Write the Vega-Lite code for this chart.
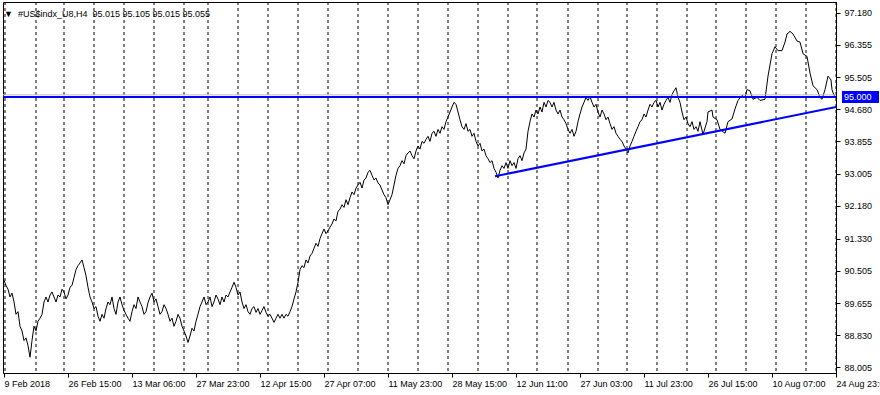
{
"$schema":"https://vega.github.io/schema/vega-lite/v6.json",
"width":833,"height":371,
"autosize":{"type":"none"},
"padding":{"left":3,"top":2,"right":44,"bottom":22},
"background":"white",
"config":{"view":{"stroke":"black","strokeWidth":1},"font":"Liberation Sans","axis":{"labelOverlap":false,"labelFlush":false,"labelBound":false}},
"datasets":{
"head":[{"label":"▼\u00a0\u00a0#US$indx_U8,H4\u00a0\u00a095.015 95.105 95.015 95.055"}],
"seps":[{"bar":2},{"bar":33},{"bar":61},{"bar":91},{"bar":121},{"bar":151},{"bar":181},{"bar":205},{"bar":235},{"bar":265},{"bar":295},{"bar":325},{"bar":355},{"bar":385},{"bar":415},{"bar":445},{"bar":475},{"bar":505},{"bar":534},{"bar":565},{"bar":595},{"bar":624},{"bar":654},{"bar":684},{"bar":713},{"bar":743},{"bar":773},{"bar":803},{"bar":833}],
"bid":[{"level":95.055}],
"level":[{"level":95.0}],
"trend":[{"bar":492,"price":92.946},{"bar":833,"price":94.74}],
"price":[
{"bar":1,"close":90.25},{"bar":3,"close":90.12},{"bar":5,"close":90.02},{"bar":7,"close":89.82},{"bar":9,"close":89.92},{"bar":11,"close":89.69},{"bar":13,"close":89.37},{"bar":15,"close":89.44},{"bar":17,"close":89.06},{"bar":19,"close":88.94},{"bar":21,"close":88.69},{"bar":23,"close":88.76},{"bar":25,"close":88.56},{"bar":27,"close":88.26},{"bar":29,"close":88.69},{"bar":31,"close":89.06},{"bar":33,"close":88.94},{"bar":35,"close":89.19},{"bar":37,"close":89.27},{"bar":39,"close":89.37},{"bar":41,"close":89.69},{"bar":43,"close":89.82},{"bar":45,"close":89.69},{"bar":47,"close":89.87},{"bar":49,"close":89.95},{"bar":51,"close":89.82},{"bar":53,"close":89.69},{"bar":55,"close":89.87},{"bar":57,"close":89.82},{"bar":59,"close":90.02},{"bar":61,"close":89.95},{"bar":63,"close":89.77},{"bar":65,"close":89.87},{"bar":67,"close":90.07},{"bar":69,"close":90.12},{"bar":71,"close":90.32},{"bar":73,"close":90.53},{"bar":75,"close":90.63},{"bar":77,"close":90.70},{"bar":79,"close":90.78},{"bar":81,"close":90.58},{"bar":83,"close":90.37},{"bar":85,"close":90.07},{"bar":87,"close":89.82},{"bar":89,"close":89.69},{"bar":91,"close":89.52},{"bar":93,"close":89.57},{"bar":95,"close":89.32},{"bar":97,"close":89.19},{"bar":99,"close":89.37},
{"bar":101,"close":89.27},{"bar":103,"close":89.52},{"bar":105,"close":89.69},{"bar":107,"close":89.62},{"bar":109,"close":89.82},{"bar":111,"close":89.52},{"bar":113,"close":89.37},{"bar":115,"close":89.69},{"bar":117,"close":89.82},{"bar":119,"close":89.62},{"bar":121,"close":89.47},{"bar":123,"close":89.37},{"bar":125,"close":89.27},{"bar":127,"close":89.19},{"bar":129,"close":89.44},{"bar":131,"close":89.62},{"bar":133,"close":89.52},{"bar":135,"close":89.82},{"bar":137,"close":89.69},{"bar":139,"close":89.57},{"bar":141,"close":89.37},{"bar":143,"close":89.44},{"bar":145,"close":89.67},{"bar":147,"close":89.82},{"bar":149,"close":89.92},{"bar":151,"close":89.69},{"bar":153,"close":89.77},{"bar":155,"close":89.57},{"bar":157,"close":89.37},{"bar":159,"close":89.44},{"bar":161,"close":89.62},{"bar":163,"close":89.52},{"bar":165,"close":89.37},{"bar":167,"close":89.19},{"bar":169,"close":89.27},{"bar":171,"close":89.06},{"bar":173,"close":89.19},{"bar":175,"close":89.37},{"bar":177,"close":89.27},{"bar":179,"close":89.06},{"bar":181,"close":88.94},{"bar":183,"close":88.81},{"bar":185,"close":88.64},{"bar":187,"close":88.81},{"bar":189,"close":89.01},{"bar":191,"close":88.94},{"bar":193,"close":89.19},{"bar":195,"close":89.37},{"bar":197,"close":89.57},{"bar":199,"close":89.69},
{"bar":201,"close":89.82},{"bar":203,"close":89.62},{"bar":205,"close":89.69},{"bar":207,"close":89.82},{"bar":209,"close":89.57},{"bar":211,"close":89.69},{"bar":213,"close":89.87},{"bar":215,"close":89.77},{"bar":217,"close":89.62},{"bar":219,"close":89.82},{"bar":221,"close":89.69},{"bar":223,"close":89.87},{"bar":225,"close":89.82},{"bar":227,"close":89.95},{"bar":229,"close":90.07},{"bar":231,"close":90.20},{"bar":233,"close":90.07},{"bar":235,"close":89.87},{"bar":237,"close":89.95},{"bar":239,"close":89.69},{"bar":241,"close":89.52},{"bar":243,"close":89.62},{"bar":245,"close":89.44},{"bar":247,"close":89.37},{"bar":249,"close":89.52},{"bar":251,"close":89.57},{"bar":253,"close":89.42},{"bar":255,"close":89.52},{"bar":257,"close":89.37},{"bar":259,"close":89.47},{"bar":261,"close":89.57},{"bar":263,"close":89.42},{"bar":265,"close":89.32},{"bar":267,"close":89.37},{"bar":269,"close":89.27},{"bar":271,"close":89.16},{"bar":273,"close":89.27},{"bar":275,"close":89.37},{"bar":277,"close":89.27},{"bar":279,"close":89.37},{"bar":281,"close":89.27},{"bar":283,"close":89.37},{"bar":285,"close":89.32},{"bar":287,"close":89.44},{"bar":289,"close":89.57},{"bar":291,"close":89.77},{"bar":293,"close":89.95},{"bar":295,"close":90.20},{"bar":297,"close":90.53},{"bar":299,"close":90.63},
{"bar":301,"close":90.58},{"bar":303,"close":90.78},{"bar":305,"close":90.70},{"bar":307,"close":90.88},{"bar":309,"close":90.95},{"bar":311,"close":91.08},{"bar":313,"close":91.21},{"bar":315,"close":91.13},{"bar":317,"close":91.33},{"bar":319,"close":91.46},{"bar":321,"close":91.58},{"bar":323,"close":91.46},{"bar":325,"close":91.53},{"bar":327,"close":91.63},{"bar":329,"close":91.71},{"bar":331,"close":91.84},{"bar":333,"close":91.79},{"bar":335,"close":92.04},{"bar":337,"close":92.09},{"bar":339,"close":92.21},{"bar":341,"close":92.14},{"bar":343,"close":92.34},{"bar":345,"close":92.21},{"bar":347,"close":92.39},{"bar":349,"close":92.54},{"bar":351,"close":92.47},{"bar":353,"close":92.64},{"bar":355,"close":92.72},{"bar":357,"close":92.79},{"bar":359,"close":92.64},{"bar":361,"close":92.85},{"bar":363,"close":92.90},{"bar":365,"close":93.05},{"bar":367,"close":93.10},{"bar":369,"close":92.97},{"bar":371,"close":92.85},{"bar":373,"close":92.90},{"bar":375,"close":92.77},{"bar":377,"close":92.72},{"bar":379,"close":92.59},{"bar":381,"close":92.47},{"bar":383,"close":92.39},{"bar":385,"close":92.21},{"bar":387,"close":92.34},{"bar":389,"close":92.47},{"bar":391,"close":92.72},{"bar":393,"close":92.97},{"bar":395,"close":93.15},{"bar":397,"close":93.22},{"bar":399,"close":93.35},
{"bar":401,"close":93.27},{"bar":403,"close":93.48},{"bar":405,"close":93.55},{"bar":407,"close":93.60},{"bar":409,"close":93.48},{"bar":411,"close":93.40},{"bar":413,"close":93.60},{"bar":415,"close":93.73},{"bar":417,"close":93.65},{"bar":419,"close":93.85},{"bar":421,"close":93.80},{"bar":423,"close":93.90},{"bar":425,"close":93.98},{"bar":427,"close":93.85},{"bar":429,"close":94.06},{"bar":431,"close":94.11},{"bar":433,"close":93.98},{"bar":435,"close":94.16},{"bar":437,"close":94.06},{"bar":439,"close":94.23},{"bar":441,"close":94.16},{"bar":443,"close":94.36},{"bar":445,"close":94.48},{"bar":447,"close":94.61},{"bar":449,"close":94.74},{"bar":451,"close":94.86},{"bar":453,"close":94.81},{"bar":455,"close":94.61},{"bar":457,"close":94.41},{"bar":459,"close":94.23},{"bar":461,"close":94.16},{"bar":463,"close":94.31},{"bar":465,"close":94.11},{"bar":467,"close":94.16},{"bar":469,"close":93.98},{"bar":471,"close":94.06},{"bar":473,"close":93.85},{"bar":475,"close":93.73},{"bar":477,"close":93.80},{"bar":479,"close":93.60},{"bar":481,"close":93.65},{"bar":483,"close":93.48},{"bar":485,"close":93.40},{"bar":487,"close":93.30},{"bar":489,"close":93.35},{"bar":491,"close":93.15},{"bar":493,"close":93.05},{"bar":495,"close":92.90},{"bar":497,"close":93.10},{"bar":499,"close":93.22},
{"bar":501,"close":93.15},{"bar":503,"close":93.30},{"bar":505,"close":93.15},{"bar":507,"close":93.35},{"bar":509,"close":93.22},{"bar":511,"close":93.30},{"bar":513,"close":93.15},{"bar":515,"close":93.40},{"bar":517,"close":93.48},{"bar":519,"close":93.35},{"bar":521,"close":93.55},{"bar":523,"close":93.65},{"bar":525,"close":94.11},{"bar":527,"close":94.36},{"bar":529,"close":94.56},{"bar":531,"close":94.48},{"bar":533,"close":94.66},{"bar":535,"close":94.56},{"bar":537,"close":94.74},{"bar":539,"close":94.61},{"bar":541,"close":94.86},{"bar":543,"close":94.74},{"bar":545,"close":94.91},{"bar":547,"close":94.86},{"bar":549,"close":94.74},{"bar":551,"close":94.86},{"bar":553,"close":94.66},{"bar":555,"close":94.56},{"bar":557,"close":94.66},{"bar":559,"close":94.48},{"bar":561,"close":94.41},{"bar":563,"close":94.31},{"bar":565,"close":94.16},{"bar":567,"close":94.06},{"bar":569,"close":94.16},{"bar":571,"close":93.98},{"bar":573,"close":94.11},{"bar":575,"close":94.36},{"bar":577,"close":94.56},{"bar":579,"close":94.74},{"bar":581,"close":94.86},{"bar":583,"close":94.99},{"bar":585,"close":94.91},{"bar":587,"close":95.01},{"bar":589,"close":94.86},{"bar":591,"close":94.74},{"bar":593,"close":94.81},{"bar":595,"close":94.61},{"bar":597,"close":94.48},{"bar":599,"close":94.66},
{"bar":601,"close":94.56},{"bar":603,"close":94.41},{"bar":605,"close":94.48},{"bar":607,"close":94.31},{"bar":609,"close":94.16},{"bar":611,"close":94.23},{"bar":613,"close":94.06},{"bar":615,"close":93.98},{"bar":617,"close":93.90},{"bar":619,"close":93.85},{"bar":621,"close":93.73},{"bar":623,"close":93.65},{"bar":625,"close":93.55},{"bar":627,"close":93.73},{"bar":629,"close":93.85},{"bar":631,"close":93.98},{"bar":633,"close":94.11},{"bar":635,"close":94.23},{"bar":637,"close":94.36},{"bar":639,"close":94.41},{"bar":641,"close":94.56},{"bar":643,"close":94.48},{"bar":645,"close":94.66},{"bar":647,"close":94.81},{"bar":649,"close":94.74},{"bar":651,"close":94.86},{"bar":653,"close":94.91},{"bar":655,"close":94.74},{"bar":657,"close":94.86},{"bar":659,"close":94.66},{"bar":661,"close":94.81},{"bar":663,"close":94.91},{"bar":665,"close":94.99},{"bar":667,"close":94.86},{"bar":669,"close":95.06},{"bar":671,"close":95.16},{"bar":673,"close":95.24},{"bar":675,"close":94.99},{"bar":677,"close":94.86},{"bar":679,"close":94.61},{"bar":681,"close":94.41},{"bar":683,"close":94.48},{"bar":685,"close":94.31},{"bar":687,"close":94.23},{"bar":689,"close":94.36},{"bar":691,"close":94.16},{"bar":693,"close":94.23},{"bar":695,"close":94.11},{"bar":697,"close":94.36},{"bar":700,"close":94.03},
{"bar":704,"close":94.36},{"bar":705,"close":94.61},{"bar":709,"close":94.66},{"bar":710,"close":94.48},{"bar":714,"close":94.41},{"bar":717,"close":94.16},{"bar":722,"close":94.06},{"bar":725,"close":94.36},{"bar":729,"close":94.43},{"bar":732,"close":94.69},{"bar":735,"close":94.91},{"bar":739,"close":95.04},{"bar":742,"close":94.99},{"bar":744,"close":95.19},{"bar":747,"close":95.16},{"bar":750,"close":94.94},{"bar":754,"close":94.99},{"bar":757,"close":94.91},{"bar":762,"close":94.94},{"bar":765,"close":95.54},{"bar":769,"close":96.12},{"bar":772,"close":96.30},{"bar":775,"close":96.20},{"bar":779,"close":96.20},{"bar":782,"close":96.42},{"bar":784,"close":96.63},{"bar":787,"close":96.70},{"bar":790,"close":96.63},{"bar":794,"close":96.45},{"bar":797,"close":96.42},{"bar":800,"close":96.12},{"bar":804,"close":96.05},{"bar":807,"close":95.62},{"bar":810,"close":95.29},{"bar":814,"close":95.19},{"bar":817,"close":94.99},{"bar":819,"close":94.94},{"bar":822,"close":95.19},{"bar":825,"close":95.54},{"bar":828,"close":95.44},{"bar":829,"close":95.19},{"bar":831,"close":95.04},{"bar":832,"close":95.055}
]},
"layer":[
{"data":{"name":"seps"},"mark":{"type":"rule","color":"black","strokeWidth":1,"strokeDash":[3,3]},
 "encoding":{"x":{"field":"bar","type":"quantitative","scale":{"domain":[0,833],"nice":false,"zero":false},
  "axis":{"values":[1,65,129,193,257,321,385,449,513,577,641,705,769,833],"tickCount":40,
   "labelExpr":"['9 Feb 2018','26 Feb 15:00','13 Mar 06:00','27 Mar 23:00','12 Apr 15:00','27 Apr 07:00','11 May 23:00','28 May 15:00','12 Jun 11:00','27 Jun 03:00','11 Jul 23:00','26 Jul 15:00','10 Aug 07:00','24 Aug 23:00'][round((datum.value-1)/64)]",
   "labelAlign":"left","labelFlush":false,"labelOverlap":false,"labelBaseline":"top","labelPadding":2,"labelFontSize":9,"labelColor":"black","labelFont":"Liberation Sans",
   "tickSize":4,"tickColor":"black","domainColor":"black","grid":false,"title":null}}}},
{"data":{"name":"price"},"mark":{"type":"line","color":"black","strokeWidth":1},
 "encoding":{"x":{"field":"bar","type":"quantitative"},
  "y":{"field":"close","type":"quantitative","scale":{"domain":[87.98,97.33],"nice":false,"zero":false},
   "axis":{"orient":"right","values":[88.005,88.83,89.655,90.505,91.33,92.18,93.005,93.855,94.68,95.505,96.355,97.18],"tickCount":40,"format":".3f",
    "labelFontSize":9,"labelColor":"black","labelFont":"Liberation Sans","labelPadding":4,"labelOverlap":false,"labelFlush":false,
    "tickSize":4,"tickColor":"black","domainColor":"black","grid":false,"title":null}}}},
{"data":{"name":"bid"},"mark":{"type":"rule","color":"#c0c0c0","strokeWidth":1},"encoding":{"y":{"field":"level","type":"quantitative"}}},
{"data":{"name":"level"},"mark":{"type":"rule","color":"#0000ff","strokeWidth":2},"encoding":{"y":{"field":"level","type":"quantitative"}}},
{"data":{"name":"trend"},"mark":{"type":"line","color":"#0000ff","strokeWidth":2},"encoding":{"x":{"field":"bar","type":"quantitative"},"y":{"field":"price","type":"quantitative"}}},
{"data":{"name":"level"},"mark":{"type":"bar","color":"#0000ff","height":12,"orient":"horizontal","clip":false},
 "encoding":{"x":{"datum":839},"x2":{"datum":876},"y":{"field":"level","type":"quantitative"}}},
{"data":{"name":"level"},"mark":{"type":"text","color":"white","align":"left","baseline":"middle","fontSize":9,"font":"Liberation Sans","clip":false},
 "encoding":{"x":{"datum":841},"y":{"field":"level","type":"quantitative"},"text":{"field":"level","type":"quantitative","format":".3f"}}},
{"data":{"name":"head"},"mark":{"type":"text","color":"black","align":"left","baseline":"alphabetic","fontSize":9,"font":"Liberation Sans"},
 "encoding":{"x":{"datum":1},"y":{"datum":97.08},"text":{"field":"label","type":"nominal"}}}
]
}
